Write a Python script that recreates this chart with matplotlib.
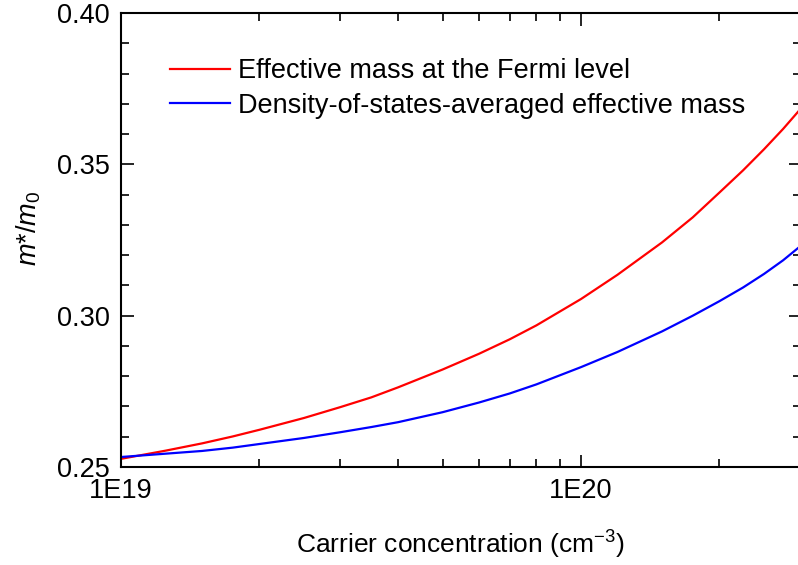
import matplotlib
matplotlib.use("Agg")
import matplotlib.pyplot as plt
import numpy as np
from matplotlib.ticker import LogLocator, FixedLocator, MultipleLocator, NullFormatter

plt.rcParams['font.family'] = ['Liberation Sans', 'DejaVu Sans']
plt.rcParams['mathtext.fontset'] = 'custom'
plt.rcParams['mathtext.rm'] = 'Liberation Sans'
plt.rcParams['mathtext.it'] = 'Liberation Sans:italic'

# Carrier concentration (cm^-3)
conc = [1.0e19, 1.25e19, 1.5e19, 1.75e19, 2.0e19, 2.5e19, 3.0e19, 3.5e19, 4.0e19,
        5.0e19, 6.0e19, 7.0e19, 8.0e19, 1.0e20, 1.2e20, 1.5e20, 1.75e20, 2.0e20,
        2.25e20, 2.5e20, 2.75e20, 3.0e20]
# Effective mass at the Fermi level
m_fermi = [0.2527, 0.2554, 0.2578, 0.2601, 0.2623, 0.2662, 0.2698, 0.2730, 0.2763,
           0.2822, 0.2874, 0.2922, 0.2968, 0.3055, 0.3135, 0.3242, 0.3325, 0.3407,
           0.3480, 0.3550, 0.3617, 0.3683]
# Density-of-states-averaged effective mass
m_dos = [0.2533, 0.2544, 0.2553, 0.2564, 0.2576, 0.2596, 0.2615, 0.2632, 0.2648,
         0.2681, 0.2713, 0.2743, 0.2773, 0.2830, 0.2880, 0.2948, 0.3000, 0.3048,
         0.3093, 0.3138, 0.3183, 0.3230]

labels = ['Effective mass at the Fermi level', 'Density-of-states-averaged effective mass']
x_tick_vals = [1e19, 1e20]
x_tick_labels = ['1E19', '1E20']
y_ticks = [0.25, 0.30, 0.35, 0.40]

W, H = 798, 565
fig = plt.figure(figsize=(W / 100, H / 100), dpi=100)
ax = fig.add_axes([121 / W, (H - 467) / H, (800.5 - 121) / W, (467 - 13) / H])

ax.plot(conc, m_fermi, color='#ff0000', lw=1.6, label=labels[0])
ax.plot(conc, m_dos, color='#0000ff', lw=1.6, label=labels[1])

ax.set_xscale('log')
ax.set_xlim(conc[0], conc[-1])
ax.set_ylim(0.25, 0.40)

ax.xaxis.set_major_locator(FixedLocator(x_tick_vals))
ax.set_xticklabels(x_tick_labels)
ax.xaxis.set_minor_locator(LogLocator(base=10, subs=np.arange(2, 10)))
ax.xaxis.set_minor_formatter(NullFormatter())
ax.set_yticks(y_ticks)
ax.set_yticklabels(['%.2f' % v for v in y_ticks])
ax.yaxis.set_minor_locator(MultipleLocator(0.01))

ax.tick_params(which='both', direction='in', top=True, right=True, width=1.2, colors='black')
ax.tick_params(which='major', length=9, labelsize=19.5, pad=8)
ax.tick_params(which='minor', length=6)
for s in ax.spines.values():
    s.set_linewidth(1.5)

ax.set_xlabel('Carrier concentration (cm$^{-3}$)', fontsize=19, labelpad=18)
ax.set_ylabel('$m$*/$m_0$', fontsize=19.5)
ax.yaxis.set_label_coords(-0.115, 0.525)

ax.legend(loc='upper left', bbox_to_anchor=(0.072, 0.90), frameon=False, fontsize=19.5,
          handlelength=2.2, handletextpad=0.3, labelspacing=0.3, borderaxespad=0,
          borderpad=0)

fig.savefig('out.png', dpi=100)
